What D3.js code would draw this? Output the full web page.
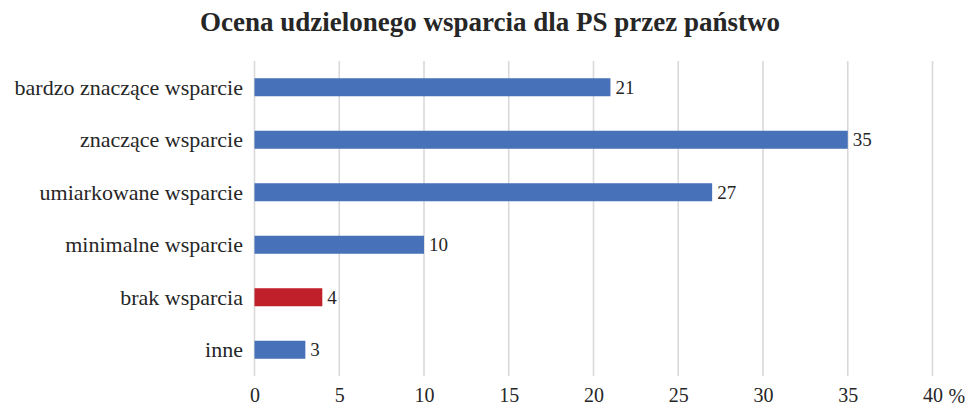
<!DOCTYPE html>
<html>
<head>
<meta charset="utf-8">
<script src="https://cdn.jsdelivr.net/npm/d3@7"></script>
<style>
  html, body { margin: 0; padding: 0; background: #fff; }
  svg { display: block; }
  text { font-family: "Liberation Serif", "Times New Roman", serif; fill: #262626; }
</style>
</head>
<body>
<svg id="chart" width="969" height="405"></svg>
<script>
const title = "Ocena udzielonego wsparcia dla PS przez państwo";
const categories = ["bardzo znaczące wsparcie", "znaczące wsparcie", "umiarkowane wsparcie", "minimalne wsparcie", "brak wsparcia", "inne"];
const values = [21, 35, 27, 10, 4, 3];
const barColors = ["#4771b8", "#4771b8", "#4771b8", "#4771b8", "#c0202a", "#4771b8"];
const tickValues = [0, 5, 10, 15, 20, 25, 30, 35, 40];
const unitLabel = "%";

const svg = d3.select("#chart");
const x = d3.scaleLinear().domain([0, 40]).range([254.5, 932.5]);
const y = d3.scaleBand().domain(categories).range([61, 376]).paddingInner(0.657).paddingOuter(0.3285);

// title
svg.append("text")
  .attr("x", 490).attr("y", 31)
  .attr("text-anchor", "middle")
  .style("font-size", "27px").style("font-weight", "bold")
  .text(title);

// gridlines
svg.append("g").selectAll("line").data(tickValues).join("line")
  .attr("x1", d => x(d)).attr("x2", d => x(d))
  .attr("y1", 61).attr("y2", 376)
  .attr("stroke", "#d9d9d9").attr("stroke-width", 1.6);

// x axis tick labels
const xAxis = d3.axisBottom(x).tickValues(tickValues).tickSize(0).tickPadding(0);
const gx = svg.append("g").attr("transform", "translate(0,388)").call(xAxis);
gx.select(".domain").remove();
gx.selectAll("text").attr("y", 0).attr("dy", "0.71em")
  .style("font-size", "20px").style("font-family", "Liberation Serif, serif").attr("fill", "#262626");
svg.append("text")
  .attr("x", x(40) + 16).attr("y", 402.5)
  .style("font-size", "20px")
  .text(unitLabel);

// bars
const data = categories.map((c, i) => ({ c, v: values[i], col: barColors[i] }));
svg.append("g").selectAll("rect").data(data).join("rect")
  .attr("x", x(0)).attr("y", d => y(d.c))
  .attr("width", d => x(d.v) - x(0))
  .attr("height", y.bandwidth())
  .attr("fill", d => d.col);

// value labels
svg.append("g").selectAll("text").data(data).join("text")
  .attr("x", d => x(d.v) + 5).attr("y", d => y(d.c) + y.bandwidth() / 2)
  .attr("dy", "0.35em")
  .style("font-size", "19px")
  .text(d => d.v);

// category labels
const yAxis = d3.axisLeft(y).tickSize(0).tickPadding(0);
const gy = svg.append("g").attr("transform", "translate(243,0)").call(yAxis);
gy.select(".domain").remove();
gy.selectAll("text").attr("x", 0).attr("dy", "0.34em")
  .style("font-size", "22px").style("font-family", "Liberation Serif, serif").attr("fill", "#262626");
</script>
</body>
</html>
